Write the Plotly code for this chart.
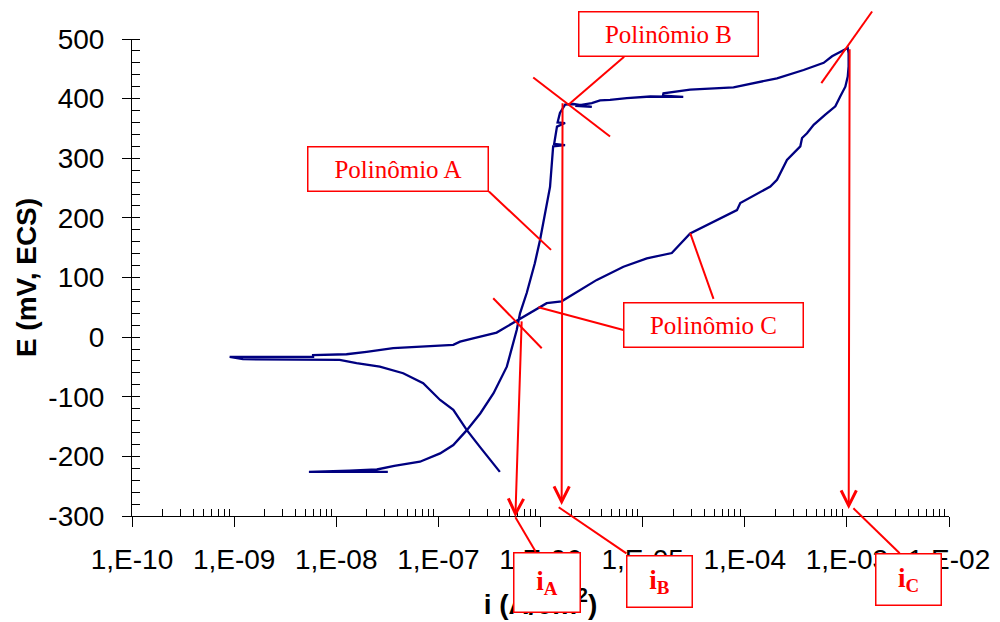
import plotly.graph_objects as go

# Cyclic polarization curve: current density (A/cm²) vs potential (mV, ECS).
# Scan: start at -226 mV, anodic rise, passive plateau, reversal near 485 mV,
# return scan down to the corrosion potential, then the cathodic branch.
current = [
    3.2e-8, 5.4e-9, 1.35e-8, 2.5e-8, 3.7e-8, 6.6e-8, 1.04e-7, 1.4e-7, 1.9e-7,
    2.57e-7, 3.47e-7, 4.68e-7, 5.85e-7, 6.3e-7, 7.33e-7, 8.8e-7, 9.9e-7,
    1.11e-6, 1.24e-6, 1.33e-6, 1.74e-6, 1.36e-6, 1.45e-6, 1.74e-6, 1.47e-6,
    1.55e-6, 1.74e-6, 2.1e-6, 3.18e-6, 2.19e-6, 3.18e-6, 3.83e-6, 4.8e-6,
    7.0e-6, 1.19e-5, 2.5e-5, 1.58e-5, 1.6e-5, 2.33e-5, 2.92e-5, 7.76e-5,
    1.42e-4, 2.07e-4, 3.77e-4, 5.93e-4, 7.16e-4, 9.66e-4, 1.02e-3,
    1.04e-3, 1.04e-3, 1.02e-3, 9.66e-4, 8.63e-4, 7.71e-4, 6.15e-4, 4.73e-4,
    4.07e-4, 3.64e-4, 3.5e-4, 2.59e-4, 2.07e-4, 1.78e-4, 9.04e-5, 8.39e-5,
    2.92e-5, 1.93e-5, 1.1e-5, 6.49e-6, 3.56e-6, 2.18e-6, 1.61e-6, 1.15e-6,
    6.55e-7, 5.41e-7, 3.72e-7, 2.19e-7, 1.63e-7, 1.4e-7, 3.61e-8, 1.98e-8,
    1.26e-8, 5.93e-9, 5.93e-9, 9.04e-10,
    1.22e-9, 1.08e-8, 1.58e-8, 2.67e-8, 4.52e-8, 7.1e-8, 1.04e-7, 1.4e-7,
    1.9e-7, 2.55e-7, 4.0e-7,
]
potential = [
    -226, -226, -224, -222, -216, -209, -195, -181, -156,
    -128, -94, -49.5, 12, 40, 74, 124, 163,
    208, 252, 320, 322, 324, 353, 359, 360,
    376, 390, 391, 386, 388, 392.5, 397, 398,
    401, 403.6, 403, 405, 409, 412, 415, 419,
    429, 434, 448, 460, 471, 482, 485,
    476, 454, 437, 420, 404, 387, 373, 356,
    342, 334, 320, 297, 264, 252.5, 225, 213,
    174, 141, 132, 118, 96, 74, 60, 57,
    32, 23, 7.6, -2, -7.6, -13, -18.6, -24.8,
    -28.7, -30, -33, -33,
    -37, -38.3, -43.8, -49.5, -60.6, -77.4, -105.4, -122,
    -156, -184, -226,
]

x_tick_vals = [1e-10, 1e-9, 1e-8, 1e-7, 1e-6, 1e-5, 1e-4, 1e-3, 1e-2]
x_tick_text = ["1,E-10", "1,E-09", "1,E-08", "1,E-07", "1,E-06",
               "1,E-05", "1,E-04", "1,E-03", "1,E-02"]
x_minor_vals = [m * d for d in x_tick_vals[:-1] for m in range(2, 10)]
y_tick_vals = [-300, -200, -100, 0, 100, 200, 300, 400, 500]
y_tick_text = ["-300", "-200", "-100", "0", "100", "200", "300", "400", "500"]

X_LOG_RANGE = [-10, -2]
Y_RANGE = [-300, 500]

RED = "rgb(255,0,0)"
NAVY = "#000080"
SANS = "Liberation Sans, Arial, sans-serif"
SERIF = "Liberation Serif, Times New Roman, serif"


def paper_x(log_i):
    return (log_i - X_LOG_RANGE[0]) / (X_LOG_RANGE[1] - X_LOG_RANGE[0])


def paper_y(e):
    return (e - Y_RANGE[0]) / (Y_RANGE[1] - Y_RANGE[0])


fig = go.Figure()
fig.add_trace(go.Scatter(
    x=current, y=potential, mode="lines",
    line=dict(color=NAVY, width=2.3), hoverinfo="skip", showlegend=False,
))

# Red construction lines, (log10 i, E) for tail and head
guide_lines = [
    ((-6.463, 65.3), (-5.988, -18.6)),    # tangent crossing at A/C
    ((-6.505, 244.1), (-5.897, 146.3)),   # leader: Polinômio A
    ((-6.071, 435.4), (-5.319, 336.4)),   # tangent at B
    ((-5.181, 470.2), (-5.727, 389.6)),   # leader: Polinômio B
    ((-2.753, 546.2), (-3.250, 426.0)),   # tangent at reversal
    ((-5.188, 12.1), (-6.021, 50.2)),     # leader: Polinômio C (left)
    ((-4.306, 64.1), (-4.534, 174.3)),    # leader: Polinômio C (up)
    ((-6.246, -302.0), (-6.047, -359.9)), # leader: i_A
    ((-5.822, -285.4), (-5.159, -362.6)), # leader: i_B
    ((-2.936, -287.1), (-2.483, -362.6)), # leader: i_C
]
# Projection arrows from each intersection down to the current axis
drop_arrows = [
    ((-6.184, 28.9), (-6.246, -302.0)),
    ((-5.784, 394.7), (-5.793, -281.6)),
    ((-2.973, 485.3), (-2.982, -288.3)),
]
# Labelled boxes: (text, log10 i, E, width px, height px, font size)
label_boxes = [
    ("Polinômio A", -7.395, 282.7, 182, 46, 25),
    ("Polinômio B", -4.742, 509.0, 181, 46, 25),
    ("Polinômio C", -4.302, 19.6, 181, 46, 25),
    ("<b>i<sub>A</sub></b>", -5.936, -411.6, 68, 61, 27),
    ("<b>i<sub>B</sub></b>", -4.833, -409.9, 67, 53, 27),
    ("<b>i<sub>C</sub></b>", -2.392, -406.6, 67, 53, 27),
]

shapes = []
for (t, h) in guide_lines:
    shapes.append(dict(
        type="line", xref="paper", yref="paper",
        x0=paper_x(t[0]), y0=paper_y(t[1]),
        x1=paper_x(h[0]), y1=paper_y(h[1]),
        line=dict(color=RED, width=2), layer="above",
    ))

annotations = []
for (t, h) in drop_arrows:
    annotations.append(dict(
        x=h[0], y=h[1], ax=t[0], ay=t[1], xref="x", yref="y",
        axref="x", ayref="y", text="", showarrow=True, arrowhead=5,
        arrowsize=1.5, arrowwidth=2, arrowcolor=RED, standoff=0,
        startstandoff=0,
    ))
BW = 1.5
for (txt, lx, ey, w, h, fs) in label_boxes:
    annotations.append(dict(
        x=paper_x(lx), y=paper_y(ey), xref="paper", yref="paper",
        text=txt, showarrow=False,
        font=dict(family=SERIF, size=fs, color=RED),
        bgcolor="white", bordercolor=RED, borderwidth=BW, borderpad=0,
        width=w - 2 * BW, height=h - 2 * BW,
        xanchor="center", yanchor="middle", align="center", valign="middle",
    ))

axis_font = dict(family=SANS, size=28, color="black")

fig.update_layout(
    width=1000, height=622,
    margin=dict(l=132, r=51, t=39, b=106, pad=0, autoexpand=False),
    paper_bgcolor="white", plot_bgcolor="white",
    showlegend=False,
    xaxis=dict(
        type="log", range=X_LOG_RANGE, automargin=False,
        tickmode="array", tickvals=x_tick_vals, ticktext=x_tick_text,
        ticks="outside", ticklen=10, tickwidth=1, tickcolor="black",
        minor=dict(tickmode="array", tickvals=x_minor_vals, ticks="inside",
                   ticklen=7, tickwidth=1, tickcolor="black", showgrid=False),
        showline=True, linecolor="black", linewidth=1,
        showgrid=False, zeroline=False,
        tickfont=axis_font, ticklabelstandoff=8,
        title=dict(text="<b>i (A/cm<sup>2</sup>)</b>", font=axis_font,
                   standoff=20),
    ),
    yaxis=dict(
        range=Y_RANGE, automargin=False,
        tickmode="array", tickvals=y_tick_vals, ticktext=y_tick_text,
        ticks="outside", ticklen=9, tickwidth=1, tickcolor="black",
        minor=dict(dtick=20, ticks="inside", ticklen=8, tickwidth=1,
                   tickcolor="black", showgrid=False),
        showline=True, linecolor="black", linewidth=1,
        showgrid=False, zeroline=False,
        tickfont=axis_font, ticklabelstandoff=12,
        title=dict(text="<b>E (mV, ECS)</b>", font=axis_font, standoff=3),
    ),
    # companion axes supply the inner half of the crossing major ticks
    xaxis2=dict(
        type="log", range=X_LOG_RANGE, overlaying="x", anchor="y",
        side="bottom", automargin=False, tickmode="array",
        tickvals=x_tick_vals, ticks="inside", ticklen=10, tickwidth=1,
        tickcolor="black", showticklabels=False, showline=False,
        showgrid=False, zeroline=False,
    ),
    yaxis2=dict(
        range=Y_RANGE, overlaying="y", anchor="x", side="left",
        automargin=False, tickmode="array", tickvals=y_tick_vals,
        ticks="inside", ticklen=10, tickwidth=1, tickcolor="black",
        showticklabels=False, showline=False, showgrid=False, zeroline=False,
    ),
    shapes=shapes,
    annotations=annotations,
)

fig.write_html("out.html")
